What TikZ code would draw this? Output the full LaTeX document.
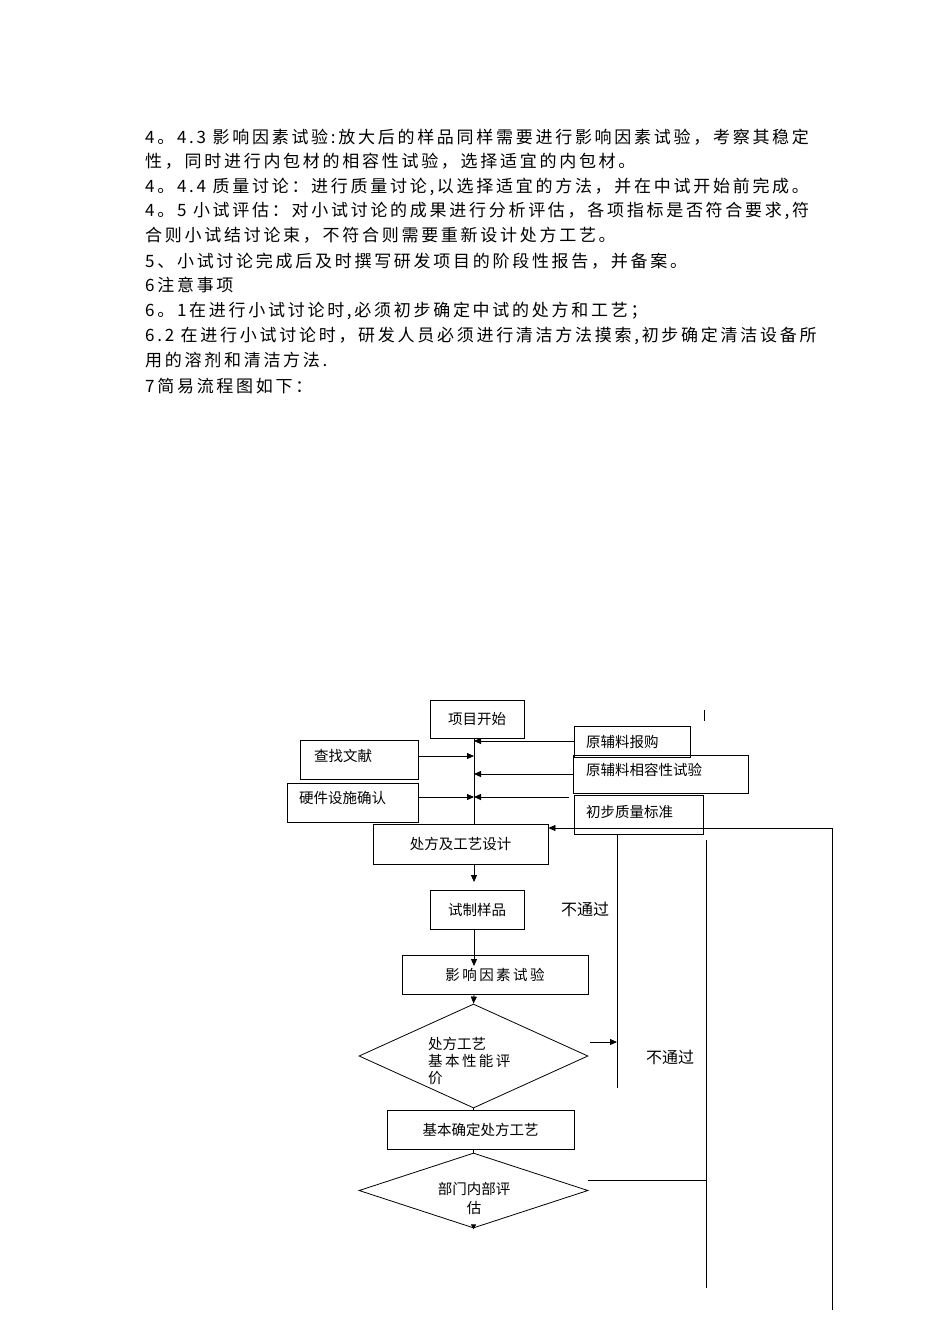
\documentclass[tikz,border=0pt]{standalone}
\usepackage{fontspec}
\setmainfont{Liberation Serif}
\newfontfamily\cjk{Noto Sans CJK SC}
\newfontfamily\cjkw[LetterSpace=16]{Noto Sans CJK SC}
\usetikzlibrary{arrows.meta,shapes.geometric}
\begin{document}
\begin{tikzpicture}[x=1pt,y=-1pt,
  txt/.style={anchor=west,inner sep=0,font=\cjkw\fontsize{17}{19}\selectfont},
  bx/.style={draw,line width=0.8pt,inner sep=0,font=\cjk\fontsize{14.5}{16}\selectfont},
  dm/.style={draw,line width=0.8pt,diamond,aspect=2.2,inner sep=0},
  ln/.style={line width=0.8pt},
  ar/.style={line width=0.8pt,-{Triangle[length=7pt,width=6pt]}},
  lb/.style={inner sep=0,font=\cjk\fontsize{16}{18}\selectfont}]
\useasboundingbox (0,0) rectangle (950,1344);
\fill[white] (0,0) rectangle (950,1344);
\node[txt] (t1) at (145,137) {4。4.3 影响因素试验:放大后的样品同样需要进行影响因素试验，考察其稳定};
\node[txt] (t2) at (145,161) {性，同时进行内包材的相容性试验，选择适宜的内包材。};
\node[txt] (t3) at (145,187) {4。4.4 质量讨论：进行质量讨论,以选择适宜的方法，并在中试开始前完成。};
\node[txt] (t4) at (145,211) {4。5 小试评估：对小试讨论的成果进行分析评估，各项指标是否符合要求,符};
\node[txt] (t5) at (145,235) {合则小试结讨论束，不符合则需要重新设计处方工艺。};
\node[txt] (t6) at (145,261) {5、小试讨论完成后及时撰写研发项目的阶段性报告，并备案。};
\node[txt] (t7) at (145,285) {6注意事项};
\node[txt] (t8) at (145,311) {6。1在进行小试讨论时,必须初步确定中试的处方和工艺；};
\node[txt] (t9) at (145,336) {6.2 在进行小试讨论时，研发人员必须进行清洁方法摸索,初步确定清洁设备所};
\node[txt] (t10) at (145,360) {用的溶剂和清洁方法.};
\node[txt] (t11) at (145,386) {7简易流程图如下：};

\node[bx,minimum width=94,minimum height=38] (start) at (477,719) {项目开始};
\node[bx,minimum width=116,minimum height=31,anchor=north west] (b1) at (574,726) {};
\node[lb,anchor=west,font=\cjk\fontsize{14.5}{16}\selectfont] (b1t) at (586,742) {原辅料报购};
\node[bx,minimum width=175,minimum height=38,anchor=north west] (b2) at (573,755) {};
\node[lb,anchor=west,font=\cjk\fontsize{14.5}{16}\selectfont] (b2t) at (586,770) {原辅料相容性试验};
\node[bx,minimum width=129,minimum height=39,anchor=north west] (b3) at (574,795) {};
\node[lb,anchor=west,font=\cjk\fontsize{14.5}{16}\selectfont] (b3t) at (586,812) {初步质量标准};
\node[bx,minimum width=118,minimum height=39,anchor=north west] (lit) at (300,740) {};
\node[lb,anchor=west,font=\cjk\fontsize{14.5}{16}\selectfont] (litt) at (314,756) {查找文献};
\node[bx,minimum width=131,minimum height=39,anchor=north west] (hw) at (287,783) {};
\node[lb,anchor=west,font=\cjk\fontsize{14.5}{16}\selectfont] (hwt) at (299,798) {硬件设施确认};
\node[bx,minimum width=175,minimum height=40] (design) at (460.5,844) {处方及工艺设计};
\node[bx,minimum width=94,minimum height=39] (sample) at (477,910) {试制样品};
\node[bx,minimum width=186,minimum height=39] (factor) at (495,974.5) {影\,响\,因\,素\,试\,验};
\node[dm,minimum width=229,minimum height=104] (d1) at (473.5,1056) {};
\node[lb,align=left,anchor=north west,font=\cjk\fontsize{14.5}{17}\selectfont] (d1t) at (428,1037) {处方工艺\\基\,本\,性\,能\,评\\价};
\node[bx,minimum width=187,minimum height=39] (conf) at (480.5,1129.5) {基本确定处方工艺};
\node[dm,minimum width=229,minimum height=75] (d2) at (473.5,1190.5) {};
\node[lb,align=center,font=\cjk\fontsize{14.5}{19}\selectfont] (d2t) at (474,1198) {部门内部评\\估};
\node[lb] (np1) at (585,909) {不通过};
\node[lb] (np2) at (670,1057) {不通过};

\coordinate (m1) at (474,741); \coordinate (m2) at (474,756);
\coordinate (m3) at (474,774); \coordinate (m4) at (474,797);
\draw[ln] (474,739) -- (design.north -| 474,0);
\draw[ar] (b1.west |- m1) -- (m1);
\draw[ar] (lit.east |- m2) -- (m2);
\draw[ar] (b2.west |- m3) -- (m3);
\draw[ar] (hw.east |- m4) -- (m4);
\draw[ar] (569,797) -- (m4);
\draw[ar] (design.south -| 474,0) -- (474,882);
\draw[ar] (sample.south -| 474,0) -- (474,966);
\draw[ar] (474,994) -- (d1.north);
\draw[ln] (d1.south) -- (conf.north -| d1.south);
\draw[ln] (conf.south -| d2.north) -- (d2.north);
\draw[ln,-{Triangle[length=5pt,width=5pt]}] (d2.south) -- ++(0,1);
\coordinate (f1) at (832,828); \coordinate (f2) at (832,1310);
\draw[ln] (f2) -- (f1);
\draw[ar] (f1) -- (design.east |- f1);
\draw[ln] (617,834) -- (617,1088);
\draw[ar] (590,1042) -- (617,1042);
\draw[ln] (706,840) -- (706,1288);
\draw[ln] (704,710) -- (704,721);
\draw[ln] (588,1180) -- (706,1180);
\end{tikzpicture}
\end{document}
